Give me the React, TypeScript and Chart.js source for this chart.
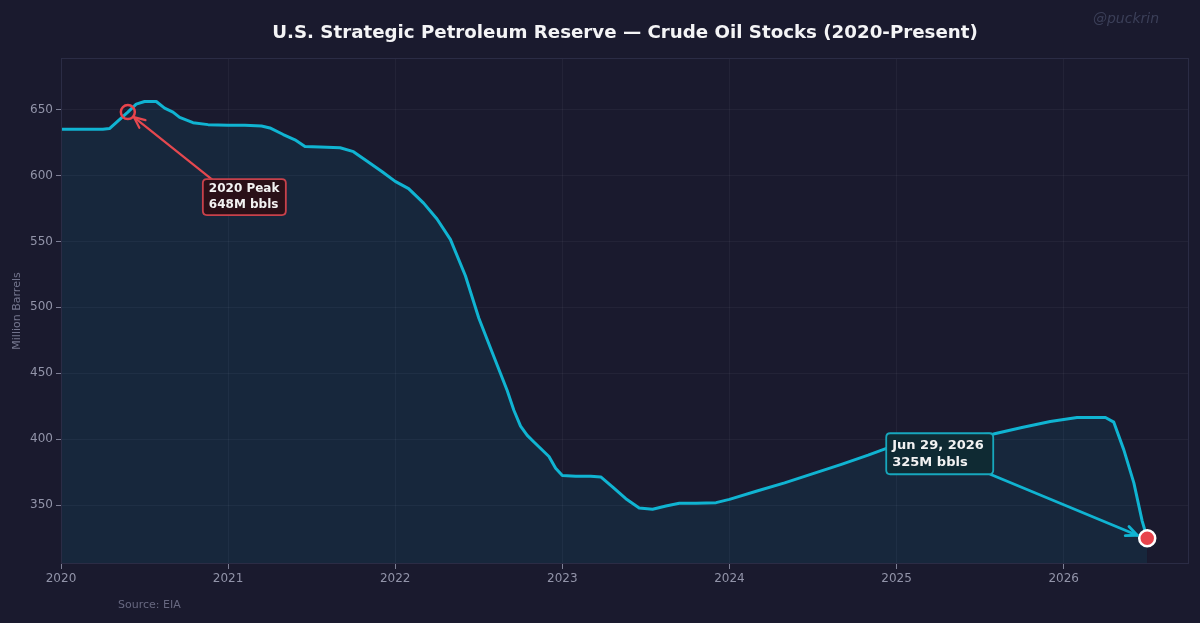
import React, { useEffect, useRef } from "react";
import { Chart, registerables } from "chart.js";

Chart.register(...registerables);

// ---- Data (decimal years, million barrels) ----
const years: number[] = [
  2020.0, 2020.08, 2020.17, 2020.25, 2020.29, 2020.33, 2020.4, 2020.45, 2020.5, 2020.57,
  2020.62, 2020.67, 2020.71, 2020.79, 2020.88, 2021.0, 2021.1, 2021.2, 2021.25, 2021.33,
  2021.4, 2021.46, 2021.55, 2021.67, 2021.75, 2021.83, 2021.92, 2022.0, 2022.08, 2022.17,
  2022.25, 2022.33, 2022.42, 2022.5, 2022.58, 2022.67, 2022.71, 2022.75, 2022.79, 2022.83,
  2022.92, 2022.96, 2023.0,
  2023.08, 2023.17, 2023.23, 2023.3, 2023.38, 2023.46, 2023.54, 2023.62, 2023.7, 2023.8,
  2023.92, 2024.0, 2024.17, 2024.33, 2024.5, 2024.67, 2024.83, 2025.0, 2025.17, 2025.33,
  2025.58, 2025.75, 2025.92, 2026.08, 2026.25, 2026.3, 2026.36, 2026.42, 2026.47, 2026.5,
];
const stocks: number[] = [
  635, 635, 635, 635, 635.5, 640, 648, 654, 656, 656,
  651, 648, 644, 640, 638.5, 638, 638, 637.5, 636, 631,
  627, 622, 621.5, 621, 618, 611, 603, 595.5, 590, 579,
  567, 551.5, 524, 492, 466, 437, 422, 410, 403, 398,
  387, 378, 372.5,
  372, 372, 371.5, 364, 355, 348, 347, 349.5, 351.5, 351.5,
  352, 354.5, 361, 367, 374, 381, 388, 396, 399, 402.5,
  404, 409, 413.5, 416.5, 416.5, 413, 392, 367, 338, 325,
];
const xTickYears: number[] = [2020, 2021, 2022, 2023, 2024, 2025, 2026];
const yTickValues: number[] = [350, 400, 450, 500, 550, 600, 650];

const peakPoint = { x: 2020.4, y: 648 };
const peakLabel: string[] = ["2020 Peak", "648M bbls"];
const latestPoint = { x: 2026.5, y: 325 };
const latestLabel: string[] = ["Jun 29, 2026", "325M bbls"];

const TITLE = "U.S. Strategic Petroleum Reserve \u2014 Crude Oil Stocks (2020-Present)";
const Y_TITLE = "Million Barrels";
const SOURCE = "Source: EIA";
const WATERMARK = "@puckrin";

const BG = "#1a1a2e";
const CYAN = "#10b4d2";
const RED = "#e8434b";
const FONT = "'DejaVu Sans', sans-serif";

function roundRect(ctx: CanvasRenderingContext2D, x: number, y: number, w: number, h: number, r: number) {
  ctx.beginPath();
  ctx.moveTo(x + r, y);
  ctx.lineTo(x + w - r, y);
  ctx.quadraticCurveTo(x + w, y, x + w, y + r);
  ctx.lineTo(x + w, y + h - r);
  ctx.quadraticCurveTo(x + w, y + h, x + w - r, y + h);
  ctx.lineTo(x + r, y + h);
  ctx.quadraticCurveTo(x, y + h, x, y + h - r);
  ctx.lineTo(x, y + r);
  ctx.quadraticCurveTo(x, y, x + r, y);
  ctx.closePath();
}

function arrow(ctx: CanvasRenderingContext2D, x1: number, y1: number, x2: number, y2: number, color: string, lw: number) {
  const ang = Math.atan2(y2 - y1, x2 - x1);
  const head = 12;
  ctx.save();
  ctx.strokeStyle = color;
  ctx.lineWidth = lw;
  ctx.lineCap = "round";
  ctx.lineJoin = "round";
  ctx.beginPath();
  ctx.moveTo(x1, y1);
  ctx.lineTo(x2, y2);
  ctx.stroke();
  ctx.beginPath();
  ctx.moveTo(x2 - head * Math.cos(ang - 0.42), y2 - head * Math.sin(ang - 0.42));
  ctx.lineTo(x2, y2);
  ctx.lineTo(x2 - head * Math.cos(ang + 0.42), y2 - head * Math.sin(ang + 0.42));
  ctx.stroke();
  ctx.restore();
}

function labelBox(
  ctx: CanvasRenderingContext2D,
  x: number, y: number, w: number, h: number,
  lines: string[], fill: string, stroke: string, size: number, lh: number, pad: number
) {
  ctx.save();
  roundRect(ctx, x, y, w, h, 4);
  ctx.fillStyle = fill;
  ctx.fill();
  ctx.strokeStyle = stroke;
  ctx.lineWidth = 1.8;
  ctx.stroke();
  ctx.fillStyle = "#f2f2f2";
  ctx.font = `bold ${size}px ${FONT}`;
  ctx.textBaseline = "middle";
  ctx.textAlign = "left";
  lines.forEach((t, i) => ctx.fillText(t, x + pad, y + h / 2 + (i - (lines.length - 1) / 2) * lh));
  ctx.restore();
}

const decorPlugin = {
  id: "decor",
  beforeDraw(chart: any) {
    const { ctx, width, height } = chart;
    ctx.save();
    ctx.fillStyle = BG;
    ctx.fillRect(0, 0, width, height);
    ctx.restore();
  },
  afterDraw(chart: any) {
    const { ctx, chartArea, scales } = chart;
    const xs = scales.x;
    const ys = scales.y;
    ctx.save();
    // frame
    ctx.strokeStyle = "#2b2c45";
    ctx.lineWidth = 1;
    ctx.strokeRect(chartArea.left + 0.5, chartArea.top + 0.5, chartArea.right - chartArea.left - 1, chartArea.bottom - chartArea.top - 1);

    // title
    let size = 17;
    ctx.font = `bold ${size}px ${FONT}`;
    const w = ctx.measureText(TITLE).width;
    size = (size * 706) / w;
    ctx.font = `bold ${size}px ${FONT}`;
    ctx.fillStyle = "#f4f4f6";
    ctx.textAlign = "center";
    ctx.textBaseline = "middle";
    ctx.fillText(TITLE, (chartArea.left + chartArea.right) / 2, 33);

    // watermark
    ctx.font = `italic 14px ${FONT}`;
    ctx.fillStyle = "#3b3f58";
    ctx.textAlign = "center";
    ctx.fillText(WATERMARK, 1126, 19);

    // source
    ctx.font = `11px ${FONT}`;
    ctx.fillStyle = "#676880";
    ctx.textAlign = "left";
    ctx.fillText(SOURCE, 118, 605);

    // y title
    ctx.save();
    ctx.translate(17, (chartArea.top + chartArea.bottom) / 2);
    ctx.rotate(-Math.PI / 2);
    ctx.font = `11px ${FONT}`;
    ctx.fillStyle = "#74768e";
    ctx.textAlign = "center";
    ctx.fillText(Y_TITLE, 0, 0);
    ctx.restore();

    // annotations
    const px = xs.getPixelForValue(peakPoint.x);
    const py = ys.getPixelForValue(peakPoint.y);
    const bx = px + 75, by = py + 67;
    arrow(ctx, bx + 10, by + 1, px + 6, py + 5, "#e5484f", 2.2);
    labelBox(ctx, bx, by, 83, 36, peakLabel, "#2a1018", "#c8414b", 12, 16, 6);

    const lx = xs.getPixelForValue(latestPoint.x);
    const ly = ys.getPixelForValue(latestPoint.y);
    const ex = lx - 261, ey = ly - 105;
    arrow(ctx, ex + 104, ey + 41, lx - 10, ly - 3, CYAN, 2.8);
    labelBox(ctx, ex, ey, 107, 41, latestLabel, "#0f2a33", "#17a7bd", 13, 17, 6);
    ctx.restore();
  },
};

export default function App() {
  const ref = useRef<HTMLCanvasElement | null>(null);
  useEffect(() => {
    document.body.style.margin = "0";
    document.body.style.background = BG;
    if (!ref.current) return;
    Chart.defaults.font.family = FONT;
    const chart = new Chart(ref.current, {
      type: "line",
      data: {
        datasets: [
          {
            data: [peakPoint],
            showLine: false,
            pointRadius: 7,
            pointBackgroundColor: "rgba(0,0,0,0)",
            pointBorderColor: RED,
            pointBorderWidth: 2.5,
            order: 1,
          },
          {
            data: [latestPoint],
            showLine: false,
            pointRadius: 8,
            pointBackgroundColor: RED,
            pointBorderColor: "#ffffff",
            pointBorderWidth: 2.5,
            order: 0,
          },
          {
            data: years.map((x, i) => ({ x, y: stocks[i] })),
            borderColor: CYAN,
            borderWidth: 3,
            pointRadius: 0,
            tension: 0,
            borderJoinStyle: "round",
            fill: "start",
            backgroundColor: "rgba(0,180,216,0.09)",
            order: 2,
          },
        ],
      } as any,
      options: {
        animation: false,
        responsive: false,
        layout: { padding: { top: 58, right: 11, left: 0, bottom: 0 } },
        plugins: { legend: { display: false }, tooltip: { enabled: false }, title: { display: false } },
        scales: {
          x: {
            type: "linear",
            min: 2020,
            max: 2026.75,
            afterBuildTicks: (s: any) => {
              s.ticks = xTickYears.map((v) => ({ value: v }));
            },
            afterFit: (s: any) => {
              s.height = 59;
            },
            ticks: {
              color: "#9294a9",
              font: { size: 12 },
              padding: 3,
              maxRotation: 0,
              callback: (v: any) => String(v),
            },
            grid: { color: "rgba(255,255,255,0.045)", tickLength: 5, tickColor: "#7d7f95", tickWidth: 1 },
            border: { display: false },
          },
          y: {
            type: "linear",
            min: 305.5,
            max: 689,
            afterBuildTicks: (s: any) => {
              s.ticks = yTickValues.map((v) => ({ value: v }));
            },
            afterFit: (s: any) => {
              s.width = 61;
            },
            ticks: { color: "#9294a9", font: { size: 12 }, padding: 3, callback: (v: any) => String(v) },
            grid: { color: "rgba(255,255,255,0.045)", tickLength: 5, tickColor: "#7d7f95", tickWidth: 1 },
            border: { display: false },
          },
        },
      } as any,
      plugins: [decorPlugin],
    });
    return () => chart.destroy();
  }, []);
  return <canvas ref={ref} width={1200} height={623} style={{ display: "block" }} />;
}
